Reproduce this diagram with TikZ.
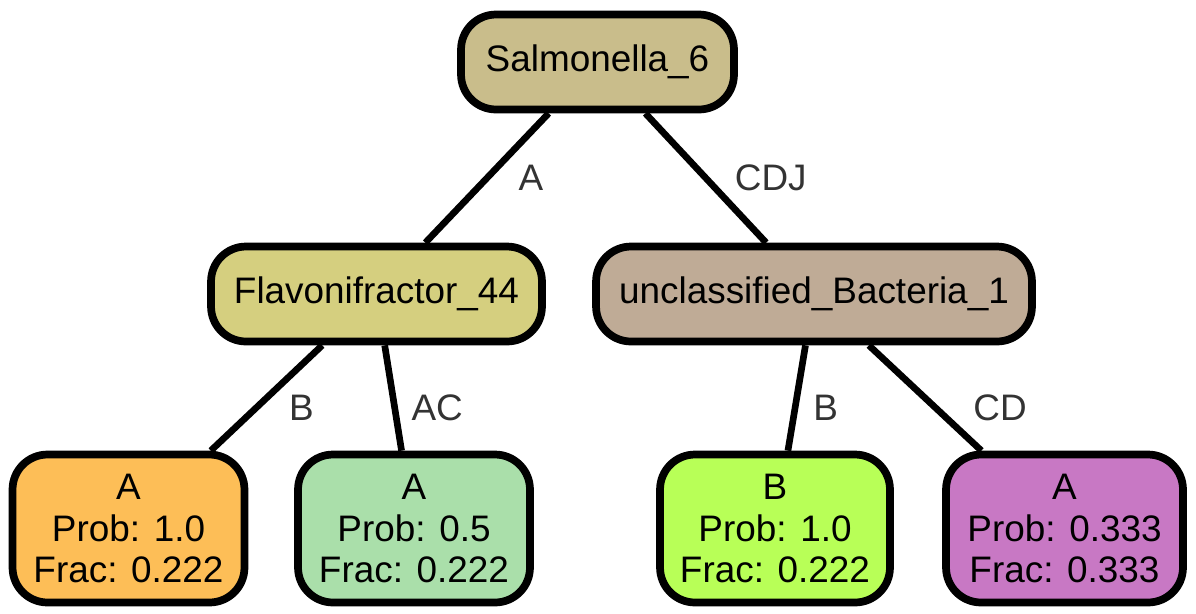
\documentclass[tikz,border=0pt]{standalone}
\usepackage{fontspec}
\setmainfont{Liberation Sans}
\usepackage{tikz}
\usetikzlibrary{positioning, calc}
\definecolor{rootfill}{HTML}{C9BD8B}
\definecolor{flavfill}{HTML}{D5CF7F}
\definecolor{uncfill}{HTML}{BFAB96}
\definecolor{orangefill}{HTML}{FDBE57}
\definecolor{greenfill}{HTML}{AADFAA}
\definecolor{limefill}{HTML}{B8FF57}
\definecolor{purplefill}{HTML}{C878C4}
\definecolor{lblgray}{HTML}{333333}

\begin{document}
\begin{tikzpicture}[
  x=0.02cm, y=-0.02cm,
  taxon/.style={rectangle, rounded corners=0.7cm, draw=black, line width=4.4pt, minimum height=1.9cm, inner sep=0pt, font=\fontsize{21}{24}\selectfont, align=center},
  leaf/.style={taxon, minimum height=2.96cm, font=\fontsize{21}{23.5}\selectfont},
  edgelbl/.style={font=\fontsize{21}{24}\selectfont, text=lblgray, inner sep=0pt},
  treeedge/.style={draw=black, line width=3.8pt}
]
\useasboundingbox (0,0) rectangle (1196,613);

\node[taxon, fill=rootfill, minimum width=5.46cm] (root) at (597.5,62) {Salmonella\_6};
\node[taxon, fill=flavfill, minimum width=6.62cm] (flav) at (376.5,294) {Flavonifractor\_44};
\node[taxon, fill=uncfill, minimum width=8.72cm] (unc) at (814,294) {unclassified\_Bacteria\_1};

\node[leaf, fill=orangefill, minimum width=4.64cm] (leafa) at (128.5,528.5) {A\\Prob: 1.0\\Frac: 0.222};
\node[leaf, fill=greenfill, minimum width=4.64cm] (leafb) at (414,528.5) {A\\Prob: 0.5\\Frac: 0.222};
\node[leaf, fill=limefill, minimum width=4.6cm] (leafc) at (775,528.5) {B\\Prob: 1.0\\Frac: 0.222};
\node[leaf, fill=purplefill, minimum width=4.74cm] (leafd) at (1064.5,528.5) {A\\Prob: 0.333\\Frac: 0.333};

\draw[treeedge] (root) -- node[edgelbl, xshift=0.88cm] {A} (flav);
\draw[treeedge] (root) -- node[edgelbl, xshift=1.3cm] {CDJ} (unc);
\draw[treeedge] (flav) -- node[edgelbl, xshift=0.7cm, yshift=-0.2cm] {B} (leafa);
\draw[treeedge] (flav) -- node[edgelbl, xshift=0.88cm, yshift=-0.2cm] {AC} (leafb);
\draw[treeedge] (unc) -- node[edgelbl, xshift=0.58cm, yshift=-0.2cm] {B} (leafc);
\draw[treeedge] (unc) -- node[edgelbl, xshift=1.5cm, yshift=-0.2cm] {CD} (leafd);
\end{tikzpicture}
\end{document}
